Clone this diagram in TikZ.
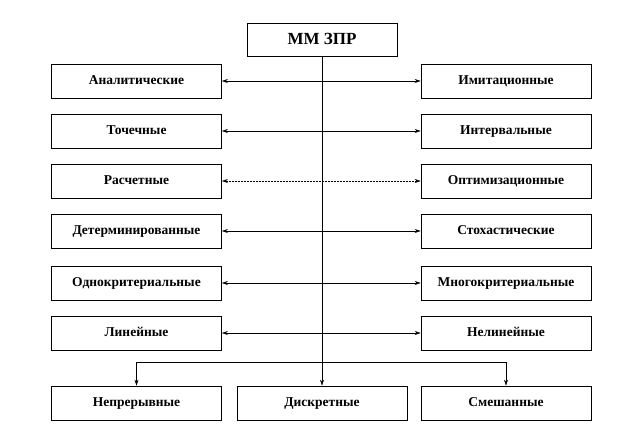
\documentclass[tikz,border=0pt]{standalone}
\usepackage{fontspec}
\setmainfont{Liberation Serif}
\usetikzlibrary{arrows.meta}
\begin{document}
\begin{tikzpicture}[x=1pt,y=-1pt,
  box/.style={draw=black, line width=0.6pt, minimum width=170pt, minimum height=34pt, inner sep=0pt, text height=9.5pt, text depth=2.5pt, font=\bfseries\fontsize{13.5}{15}\selectfont, fill=white},
  topbox/.style={box, minimum width=150pt, minimum height=33pt, line width=1pt, text height=12pt, text depth=3pt, font=\bfseries\fontsize{17}{19}\selectfont},
  conn/.style={line width=0.5pt, -{Stealth[length=6pt,width=4pt]}},
  both/.style={line width=0.5pt, {Stealth[length=6pt,width=4pt]}-{Stealth[length=6pt,width=4pt]}}
]
\useasboundingbox (0,0) rectangle (643,425);
\node[topbox] (top) at (322,40.5) {ММ ЗПР};
\node[box] (l1) at (136.5,81) {Аналитические};
\node[box] (r1) at (506,81) {Имитационные};
\node[box] (l2) at (136.5,131) {Точечные};
\node[box] (r2) at (506,131) {Интервальные};
\node[box] (l3) at (136.5,181) {Расчетные};
\node[box] (r3) at (506,181) {Оптимизационные};
\node[box] (l4) at (136.5,231) {Детерминированные};
\node[box] (r4) at (506,231) {Стохастические};
\node[box] (l5) at (136.5,283) {Однокритериальные};
\node[box] (r5) at (506,283) {Многокритериальные};
\node[box] (l6) at (136.5,333) {Линейные};
\node[box] (r6) at (506,333) {Нелинейные};
\node[box] (b1) at (136.5,403) {Непрерывные};
\node[box] (b2) at (322,403) {Дискретные};
\node[box] (b3) at (506,403) {Смешанные};
\coordinate (j) at (322,362);
\draw[line width=0.6pt] (top.south) -- (j);
\draw[both] (l1) -- (r1);
\draw[both] (l2) -- (r2);
\draw[both, densely dotted] (l3) -- (r3);
\draw[both] (l4) -- (r4);
\draw[both] (l5) -- (r5);
\draw[both] (l6) -- (r6);
\draw[conn] (j) -- (b2.north);
\draw[conn] (j) -| (b1.north);
\draw[conn] (j) -| (b3.north);
\end{tikzpicture}
\end{document}
